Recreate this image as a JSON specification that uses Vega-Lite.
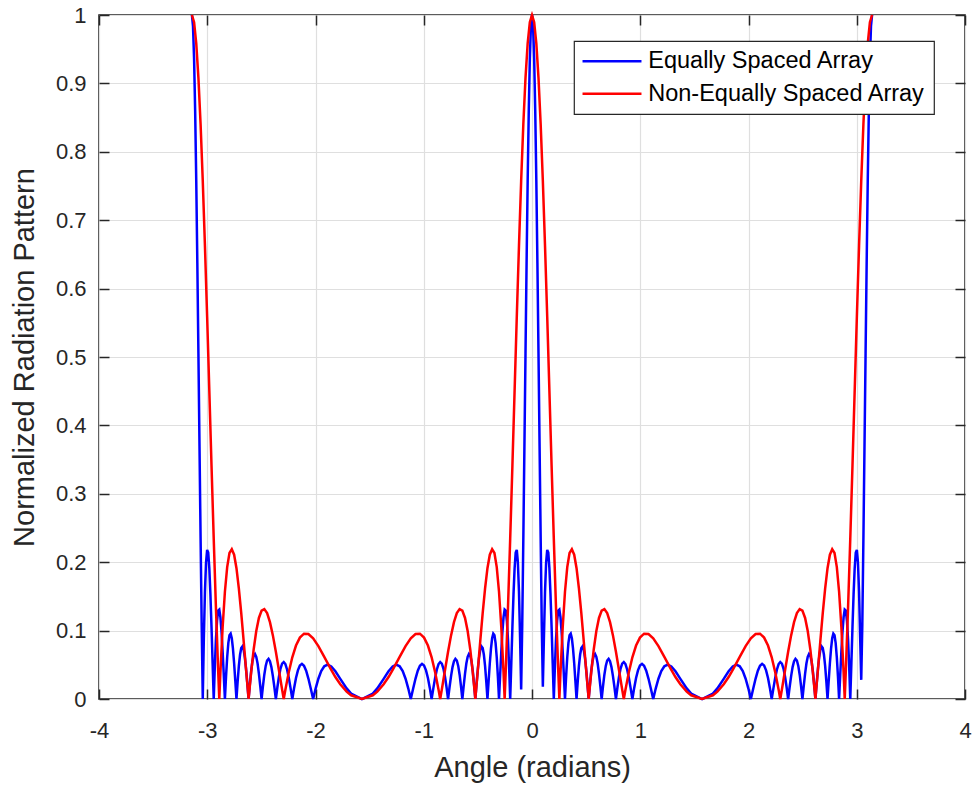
{
  "$schema": "https://vega.github.io/schema/vega-lite/v6.json",
  "width": 866,
  "height": 684,
  "autosize": {"type": "none"},
  "padding": {"left": 99, "top": 15, "right": 8, "bottom": 87},
  "background": "white",
  "config": {
    "view": {"stroke": "#262626", "strokeWidth": 1.6},
    "font": "Liberation Sans",
    "axis": {"labelFont": "Liberation Sans", "titleFont": "Liberation Sans", "labelFlush": false, "labelOverlap": false},
    "legend": {"strokeWidth": 1.2}
  },
  "datasets": {
    "eq": [
      {"x":-3.1416,"y":1},{"x":-3.1316,"y":0.9837},{"x":-3.1216,"y":0.9356},{"x":-3.1116,"y":0.8587},{"x":-3.1016,"y":0.7573},{"x":-3.0916,"y":0.6373},{"x":-3.0816,"y":0.5053},{"x":-3.0715,"y":0.3686},{"x":-3.0615,"y":0.2345},{"x":-3.0515,"y":0.1097},{"x":-3.0414,"y":0},{"x":-3.0314,"y":0.0899},{"x":-3.0213,"y":0.1568},{"x":-3.0112,"y":0.1995},{"x":-3.0011,"y":0.2180},{"x":-2.9910,"y":0.2142},{"x":-2.9809,"y":0.1912},{"x":-2.9708,"y":0.1533},{"x":-2.9606,"y":0.1053},{"x":-2.9504,"y":0.0525},{"x":-2.9402,"y":0},{"x":-2.9300,"y":0.0477},{"x":-2.9198,"y":0.0868},{"x":-2.9095,"y":0.1144},{"x":-2.8992,"y":0.1292},{"x":-2.8889,"y":0.1307},{"x":-2.8786,"y":0.1197},{"x":-2.8682,"y":0.0983},{"x":-2.8578,"y":0.0690},{"x":-2.8474,"y":0.0351},{"x":-2.8369,"y":0},{"x":-2.8264,"y":0.0330},{"x":-2.8159,"y":0.0610},{"x":-2.8053,"y":0.0816},{"x":-2.7947,"y":0.0934},{"x":-2.7840,"y":0.0957},{"x":-2.7733,"y":0.0887},{"x":-2.7626,"y":0.0737},{"x":-2.7518,"y":0.0523},{"x":-2.7410,"y":0.0269},{"x":-2.7301,"y":0},{"x":-2.7191,"y":0.0257},{"x":-2.7082,"y":0.0480},{"x":-2.6971,"y":0.0647},{"x":-2.6860,"y":0.0746},{"x":-2.6748,"y":0.0770},{"x":-2.6636,"y":0.0719},{"x":-2.6523,"y":0.0601},{"x":-2.6409,"y":0.0429},{"x":-2.6295,"y":0.0222},{"x":-2.6180,"y":0},{"x":-2.6064,"y":0.0215},{"x":-2.5947,"y":0.0403},{"x":-2.5830,"y":0.0547},{"x":-2.5712,"y":0.0634},{"x":-2.5592,"y":0.0658},{"x":-2.5472,"y":0.0617},{"x":-2.5351,"y":0.0518},{"x":-2.5229,"y":0.0372},{"x":-2.5105,"y":0.0193},{"x":-2.4981,"y":0},{"x":-2.4855,"y":0.0189},{"x":-2.4729,"y":0.0355},{"x":-2.4600,"y":0.0484},{"x":-2.4471,"y":0.0563},{"x":-2.4340,"y":0.0586},{"x":-2.4208,"y":0.0552},{"x":-2.4074,"y":0.0466},{"x":-2.3938,"y":0.0335},{"x":-2.3801,"y":0.0175},{"x":-2.3662,"y":0},{"x":-2.3521,"y":0.0172},{"x":-2.3378,"y":0.0325},{"x":-2.3233,"y":0.0444},{"x":-2.3085,"y":0.0518},{"x":-2.2935,"y":0.0541},{"x":-2.2783,"y":0.0511},{"x":-2.2627,"y":0.0432},{"x":-2.2469,"y":0.0312},{"x":-2.2308,"y":0.0163},{"x":-2.2143,"y":0},{"x":-2.1974,"y":0.0162},{"x":-2.1802,"y":0.0306},{"x":-2.1625,"y":0.0419},{"x":-2.1443,"y":0.0491},{"x":-2.1256,"y":0.0514},{"x":-2.1063,"y":0.0487},{"x":-2.0864,"y":0.0413},{"x":-2.0657,"y":0.0299},{"x":-2.0443,"y":0.0157},{"x":-2.0218,"y":0},{"x":-1.9983,"y":0.0156},{"x":-1.9735,"y":0.0296},{"x":-1.9472,"y":0.0407},{"x":-1.9190,"y":0.0478},{"x":-1.8884,"y":0.0502},{"x":-1.8546,"y":0.0476},{"x":-1.8164,"y":0.0405},{"x":-1.7711,"y":0.0294},{"x":-1.7123,"y":0.0155},{"x":-1.6709,"y":0.0078},{"x":-1.5708,"y":0},
      {"x":-1.4707,"y":0.0078},{"x":-1.4293,"y":0.0155},{"x":-1.3705,"y":0.0294},{"x":-1.3252,"y":0.0405},{"x":-1.2870,"y":0.0476},{"x":-1.2532,"y":0.0502},{"x":-1.2226,"y":0.0478},{"x":-1.1944,"y":0.0407},{"x":-1.1681,"y":0.0296},{"x":-1.1433,"y":0.0156},{"x":-1.1198,"y":0},{"x":-1.0973,"y":0.0157},{"x":-1.0759,"y":0.0299},{"x":-1.0552,"y":0.0413},{"x":-1.0353,"y":0.0487},{"x":-1.0160,"y":0.0514},{"x":-0.9973,"y":0.0491},{"x":-0.9791,"y":0.0419},{"x":-0.9614,"y":0.0306},{"x":-0.9442,"y":0.0162},{"x":-0.9273,"y":0},{"x":-0.9108,"y":0.0163},{"x":-0.8947,"y":0.0312},{"x":-0.8789,"y":0.0432},{"x":-0.8633,"y":0.0511},{"x":-0.8481,"y":0.0541},{"x":-0.8331,"y":0.0518},{"x":-0.8183,"y":0.0444},{"x":-0.8038,"y":0.0325},{"x":-0.7895,"y":0.0172},{"x":-0.7754,"y":0},{"x":-0.7615,"y":0.0175},{"x":-0.7478,"y":0.0335},{"x":-0.7342,"y":0.0466},{"x":-0.7208,"y":0.0552},{"x":-0.7076,"y":0.0586},{"x":-0.6945,"y":0.0563},{"x":-0.6816,"y":0.0484},{"x":-0.6687,"y":0.0355},{"x":-0.6561,"y":0.0189},{"x":-0.6435,"y":0},{"x":-0.6311,"y":0.0193},{"x":-0.6187,"y":0.0372},{"x":-0.6065,"y":0.0518},{"x":-0.5944,"y":0.0617},{"x":-0.5824,"y":0.0658},{"x":-0.5704,"y":0.0634},{"x":-0.5586,"y":0.0547},{"x":-0.5469,"y":0.0403},{"x":-0.5352,"y":0.0215},{"x":-0.5236,"y":0},{"x":-0.5121,"y":0.0222},{"x":-0.5007,"y":0.0429},{"x":-0.4893,"y":0.0601},{"x":-0.4780,"y":0.0719},{"x":-0.4668,"y":0.0770},{"x":-0.4556,"y":0.0746},{"x":-0.4445,"y":0.0647},{"x":-0.4334,"y":0.0480},{"x":-0.4225,"y":0.0257},{"x":-0.4115,"y":0},{"x":-0.4006,"y":0.0269},{"x":-0.3898,"y":0.0523},{"x":-0.3790,"y":0.0737},{"x":-0.3683,"y":0.0887},{"x":-0.3576,"y":0.0957},{"x":-0.3469,"y":0.0934},{"x":-0.3363,"y":0.0816},{"x":-0.3257,"y":0.0610},{"x":-0.3152,"y":0.0330},{"x":-0.3047,"y":0},{"x":-0.2942,"y":0.0351},{"x":-0.2838,"y":0.0690},{"x":-0.2734,"y":0.0983},{"x":-0.2630,"y":0.1197},{"x":-0.2527,"y":0.1307},{"x":-0.2424,"y":0.1292},{"x":-0.2321,"y":0.1144},{"x":-0.2218,"y":0.0868},{"x":-0.2116,"y":0.0477},{"x":-0.2014,"y":0},{"x":-0.1912,"y":0.0525},{"x":-0.1810,"y":0.1053},{"x":-0.1708,"y":0.1533},{"x":-0.1607,"y":0.1912},{"x":-0.1506,"y":0.2142},{"x":-0.1405,"y":0.2180},{"x":-0.1304,"y":0.1995},{"x":-0.1203,"y":0.1568},{"x":-0.1102,"y":0.0899},{"x":-0.1002,"y":0.014},{"x":-0.0901,"y":0.1097},{"x":-0.0801,"y":0.2345},{"x":-0.0701,"y":0.3686},{"x":-0.0600,"y":0.5053},{"x":-0.0500,"y":0.6373},{"x":-0.0400,"y":0.7573},{"x":-0.0300,"y":0.8587},{"x":-0.0200,"y":0.9356},{"x":-0.0100,"y":0.9837},{"x":0,"y":1},
      {"x":0.0100,"y":0.9837},{"x":0.0200,"y":0.9356},{"x":0.0300,"y":0.8587},{"x":0.0400,"y":0.7573},{"x":0.0500,"y":0.6373},{"x":0.0600,"y":0.5053},{"x":0.0701,"y":0.3686},{"x":0.0801,"y":0.2345},{"x":0.0901,"y":0.1097},{"x":0.1002,"y":0.018},{"x":0.1102,"y":0.0899},{"x":0.1203,"y":0.1568},{"x":0.1304,"y":0.1995},{"x":0.1405,"y":0.2180},{"x":0.1506,"y":0.2142},{"x":0.1607,"y":0.1912},{"x":0.1708,"y":0.1533},{"x":0.1810,"y":0.1053},{"x":0.1912,"y":0.0525},{"x":0.2014,"y":0},{"x":0.2116,"y":0.0477},{"x":0.2218,"y":0.0868},{"x":0.2321,"y":0.1144},{"x":0.2424,"y":0.1292},{"x":0.2527,"y":0.1307},{"x":0.2630,"y":0.1197},{"x":0.2734,"y":0.0983},{"x":0.2838,"y":0.0690},{"x":0.2942,"y":0.0351},{"x":0.3047,"y":0},{"x":0.3152,"y":0.0330},{"x":0.3257,"y":0.0610},{"x":0.3363,"y":0.0816},{"x":0.3469,"y":0.0934},{"x":0.3576,"y":0.0957},{"x":0.3683,"y":0.0887},{"x":0.3790,"y":0.0737},{"x":0.3898,"y":0.0523},{"x":0.4006,"y":0.0269},{"x":0.4115,"y":0},{"x":0.4225,"y":0.0257},{"x":0.4334,"y":0.0480},{"x":0.4445,"y":0.0647},{"x":0.4556,"y":0.0746},{"x":0.4668,"y":0.0770},{"x":0.4780,"y":0.0719},{"x":0.4893,"y":0.0601},{"x":0.5007,"y":0.0429},{"x":0.5121,"y":0.0222},{"x":0.5236,"y":0},{"x":0.5352,"y":0.0215},{"x":0.5469,"y":0.0403},{"x":0.5586,"y":0.0547},{"x":0.5704,"y":0.0634},{"x":0.5824,"y":0.0658},{"x":0.5944,"y":0.0617},{"x":0.6065,"y":0.0518},{"x":0.6187,"y":0.0372},{"x":0.6311,"y":0.0193},{"x":0.6435,"y":0},{"x":0.6561,"y":0.0189},{"x":0.6687,"y":0.0355},{"x":0.6816,"y":0.0484},{"x":0.6945,"y":0.0563},{"x":0.7076,"y":0.0586},{"x":0.7208,"y":0.0552},{"x":0.7342,"y":0.0466},{"x":0.7478,"y":0.0335},{"x":0.7615,"y":0.0175},{"x":0.7754,"y":0},{"x":0.7895,"y":0.0172},{"x":0.8038,"y":0.0325},{"x":0.8183,"y":0.0444},{"x":0.8331,"y":0.0518},{"x":0.8481,"y":0.0541},{"x":0.8633,"y":0.0511},{"x":0.8789,"y":0.0432},{"x":0.8947,"y":0.0312},{"x":0.9108,"y":0.0163},{"x":0.9273,"y":0},{"x":0.9442,"y":0.0162},{"x":0.9614,"y":0.0306},{"x":0.9791,"y":0.0419},{"x":0.9973,"y":0.0491},{"x":1.0160,"y":0.0514},{"x":1.0353,"y":0.0487},{"x":1.0552,"y":0.0413},{"x":1.0759,"y":0.0299},{"x":1.0973,"y":0.0157},{"x":1.1198,"y":0},{"x":1.1433,"y":0.0156},{"x":1.1681,"y":0.0296},{"x":1.1944,"y":0.0407},{"x":1.2226,"y":0.0478},{"x":1.2532,"y":0.0502},{"x":1.2870,"y":0.0476},{"x":1.3252,"y":0.0405},{"x":1.3705,"y":0.0294},{"x":1.4293,"y":0.0155},{"x":1.4707,"y":0.0078},{"x":1.5708,"y":0},
      {"x":1.6709,"y":0.0078},{"x":1.7123,"y":0.0155},{"x":1.7711,"y":0.0294},{"x":1.8164,"y":0.0405},{"x":1.8546,"y":0.0476},{"x":1.8884,"y":0.0502},{"x":1.9190,"y":0.0478},{"x":1.9472,"y":0.0407},{"x":1.9735,"y":0.0296},{"x":1.9983,"y":0.0156},{"x":2.0218,"y":0},{"x":2.0443,"y":0.0157},{"x":2.0657,"y":0.0299},{"x":2.0864,"y":0.0413},{"x":2.1063,"y":0.0487},{"x":2.1256,"y":0.0514},{"x":2.1443,"y":0.0491},{"x":2.1625,"y":0.0419},{"x":2.1802,"y":0.0306},{"x":2.1974,"y":0.0162},{"x":2.2143,"y":0},{"x":2.2308,"y":0.0163},{"x":2.2469,"y":0.0312},{"x":2.2627,"y":0.0432},{"x":2.2783,"y":0.0511},{"x":2.2935,"y":0.0541},{"x":2.3085,"y":0.0518},{"x":2.3233,"y":0.0444},{"x":2.3378,"y":0.0325},{"x":2.3521,"y":0.0172},{"x":2.3662,"y":0},{"x":2.3801,"y":0.0175},{"x":2.3938,"y":0.0335},{"x":2.4074,"y":0.0466},{"x":2.4208,"y":0.0552},{"x":2.4340,"y":0.0586},{"x":2.4471,"y":0.0563},{"x":2.4600,"y":0.0484},{"x":2.4729,"y":0.0355},{"x":2.4855,"y":0.0189},{"x":2.4981,"y":0},{"x":2.5105,"y":0.0193},{"x":2.5229,"y":0.0372},{"x":2.5351,"y":0.0518},{"x":2.5472,"y":0.0617},{"x":2.5592,"y":0.0658},{"x":2.5712,"y":0.0634},{"x":2.5830,"y":0.0547},{"x":2.5947,"y":0.0403},{"x":2.6064,"y":0.0215},{"x":2.6180,"y":0},{"x":2.6295,"y":0.0222},{"x":2.6409,"y":0.0429},{"x":2.6523,"y":0.0601},{"x":2.6636,"y":0.0719},{"x":2.6748,"y":0.0770},{"x":2.6860,"y":0.0746},{"x":2.6971,"y":0.0647},{"x":2.7082,"y":0.0480},{"x":2.7191,"y":0.0257},{"x":2.7301,"y":0},{"x":2.7410,"y":0.0269},{"x":2.7518,"y":0.0523},{"x":2.7626,"y":0.0737},{"x":2.7733,"y":0.0887},{"x":2.7840,"y":0.0957},{"x":2.7947,"y":0.0934},{"x":2.8053,"y":0.0816},{"x":2.8159,"y":0.0610},{"x":2.8264,"y":0.0330},{"x":2.8369,"y":0},{"x":2.8474,"y":0.0351},{"x":2.8578,"y":0.0690},{"x":2.8682,"y":0.0983},{"x":2.8786,"y":0.1197},{"x":2.8889,"y":0.1307},{"x":2.8992,"y":0.1292},{"x":2.9095,"y":0.1144},{"x":2.9198,"y":0.0868},{"x":2.9300,"y":0.0477},{"x":2.9402,"y":0},{"x":2.9504,"y":0.0525},{"x":2.9606,"y":0.1053},{"x":2.9708,"y":0.1533},{"x":2.9809,"y":0.1912},{"x":2.9910,"y":0.2142},{"x":3.0011,"y":0.2180},{"x":3.0112,"y":0.1995},{"x":3.0213,"y":0.1568},{"x":3.0314,"y":0.0899},{"x":3.0414,"y":0.028},{"x":3.0515,"y":0.1097},{"x":3.0615,"y":0.2345},{"x":3.0715,"y":0.3686},{"x":3.0816,"y":0.5053},{"x":3.0916,"y":0.6373},{"x":3.1016,"y":0.7573},{"x":3.1116,"y":0.8587},{"x":3.1216,"y":0.9356},{"x":3.1316,"y":0.9837},{"x":3.1416,"y":1}
    ],
    "neq": [
      {"x":-3.1416,"y":1},{"x":-3.1216,"y":0.9895},{"x":-3.1016,"y":0.9585},{"x":-3.0816,"y":0.9081},{"x":-3.0615,"y":0.8402},{"x":-3.0414,"y":0.7573},{"x":-3.0213,"y":0.6625},{"x":-3.0011,"y":0.5591},{"x":-2.9809,"y":0.4508},{"x":-2.9606,"y":0.3414},{"x":-2.9402,"y":0.2345},{"x":-2.9198,"y":0.1336},{"x":-2.8992,"y":0.0417},{"x":-2.8889,"y":0},{"x":-2.8786,"y":0.0385},{"x":-2.8578,"y":0.1052},{"x":-2.8369,"y":0.1568},{"x":-2.8159,"y":0.1929},{"x":-2.7947,"y":0.2134},{"x":-2.7733,"y":0.2190},{"x":-2.7518,"y":0.2110},{"x":-2.7301,"y":0.1912},{"x":-2.7082,"y":0.1618},{"x":-2.6860,"y":0.1254},{"x":-2.6636,"y":0.0845},{"x":-2.6409,"y":0.0419},{"x":-2.6180,"y":0},{"x":-2.5947,"y":0.0387},{"x":-2.5712,"y":0.0724},{"x":-2.5472,"y":0.0993},{"x":-2.5229,"y":0.1185},{"x":-2.4981,"y":0.1292},{"x":-2.4729,"y":0.1314},{"x":-2.4471,"y":0.1255},{"x":-2.4208,"y":0.1123},{"x":-2.3938,"y":0.0930},{"x":-2.3662,"y":0.0690},{"x":-2.3378,"y":0.0421},{"x":-2.3085,"y":0.0140},{"x":-2.2935,"y":0},{"x":-2.2783,"y":0.0136},{"x":-2.2469,"y":0.0391},{"x":-2.2143,"y":0.0610},{"x":-2.1802,"y":0.0782},{"x":-2.1443,"y":0.0898},{"x":-2.1063,"y":0.0955},{"x":-2.0657,"y":0.0950},{"x":-2.0218,"y":0.0887},{"x":-1.9735,"y":0.0773},{"x":-1.9190,"y":0.0615},{"x":-1.8546,"y":0.0425},{"x":-1.8164,"y":0.0321},{"x":-1.7711,"y":0.0215},{"x":-1.7123,"y":0.0108},{"x":-1.6709,"y":0.0054},{"x":-1.5708,"y":0},
      {"x":-1.4707,"y":0.0054},{"x":-1.4293,"y":0.0108},{"x":-1.3705,"y":0.0215},{"x":-1.3252,"y":0.0321},{"x":-1.2870,"y":0.0425},{"x":-1.2226,"y":0.0615},{"x":-1.1681,"y":0.0773},{"x":-1.1198,"y":0.0887},{"x":-1.0759,"y":0.0950},{"x":-1.0353,"y":0.0955},{"x":-0.9973,"y":0.0898},{"x":-0.9614,"y":0.0782},{"x":-0.9273,"y":0.0610},{"x":-0.8947,"y":0.0391},{"x":-0.8633,"y":0.0136},{"x":-0.8481,"y":0},{"x":-0.8331,"y":0.0140},{"x":-0.8038,"y":0.0421},{"x":-0.7754,"y":0.0690},{"x":-0.7478,"y":0.0930},{"x":-0.7208,"y":0.1123},{"x":-0.6945,"y":0.1255},{"x":-0.6687,"y":0.1314},{"x":-0.6435,"y":0.1292},{"x":-0.6187,"y":0.1185},{"x":-0.5944,"y":0.0993},{"x":-0.5704,"y":0.0724},{"x":-0.5469,"y":0.0387},{"x":-0.5236,"y":0},{"x":-0.5007,"y":0.0419},{"x":-0.4780,"y":0.0845},{"x":-0.4556,"y":0.1254},{"x":-0.4334,"y":0.1618},{"x":-0.4115,"y":0.1912},{"x":-0.3898,"y":0.2110},{"x":-0.3683,"y":0.2190},{"x":-0.3469,"y":0.2134},{"x":-0.3257,"y":0.1929},{"x":-0.3047,"y":0.1568},{"x":-0.2838,"y":0.1052},{"x":-0.2630,"y":0.0385},{"x":-0.2527,"y":0},{"x":-0.2424,"y":0.0417},{"x":-0.2218,"y":0.1336},{"x":-0.2014,"y":0.2345},{"x":-0.1810,"y":0.3414},{"x":-0.1607,"y":0.4508},{"x":-0.1405,"y":0.5591},{"x":-0.1203,"y":0.6625},{"x":-0.1002,"y":0.7573},{"x":-0.0801,"y":0.8402},{"x":-0.0600,"y":0.9081},{"x":-0.0400,"y":0.9585},{"x":-0.0200,"y":0.9895},{"x":0,"y":1},
      {"x":0.0200,"y":0.9895},{"x":0.0400,"y":0.9585},{"x":0.0600,"y":0.9081},{"x":0.0801,"y":0.8402},{"x":0.1002,"y":0.7573},{"x":0.1203,"y":0.6625},{"x":0.1405,"y":0.5591},{"x":0.1607,"y":0.4508},{"x":0.1810,"y":0.3414},{"x":0.2014,"y":0.2345},{"x":0.2218,"y":0.1336},{"x":0.2424,"y":0.0417},{"x":0.2527,"y":0},{"x":0.2630,"y":0.0385},{"x":0.2838,"y":0.1052},{"x":0.3047,"y":0.1568},{"x":0.3257,"y":0.1929},{"x":0.3469,"y":0.2134},{"x":0.3683,"y":0.2190},{"x":0.3898,"y":0.2110},{"x":0.4115,"y":0.1912},{"x":0.4334,"y":0.1618},{"x":0.4556,"y":0.1254},{"x":0.4780,"y":0.0845},{"x":0.5007,"y":0.0419},{"x":0.5236,"y":0},{"x":0.5469,"y":0.0387},{"x":0.5704,"y":0.0724},{"x":0.5944,"y":0.0993},{"x":0.6187,"y":0.1185},{"x":0.6435,"y":0.1292},{"x":0.6687,"y":0.1314},{"x":0.6945,"y":0.1255},{"x":0.7208,"y":0.1123},{"x":0.7478,"y":0.0930},{"x":0.7754,"y":0.0690},{"x":0.8038,"y":0.0421},{"x":0.8331,"y":0.0140},{"x":0.8481,"y":0},{"x":0.8633,"y":0.0136},{"x":0.8947,"y":0.0391},{"x":0.9273,"y":0.0610},{"x":0.9614,"y":0.0782},{"x":0.9973,"y":0.0898},{"x":1.0353,"y":0.0955},{"x":1.0759,"y":0.0950},{"x":1.1198,"y":0.0887},{"x":1.1681,"y":0.0773},{"x":1.2226,"y":0.0615},{"x":1.2870,"y":0.0425},{"x":1.3252,"y":0.0321},{"x":1.3705,"y":0.0215},{"x":1.4293,"y":0.0108},{"x":1.4707,"y":0.0054},{"x":1.5708,"y":0},
      {"x":1.6709,"y":0.0054},{"x":1.7123,"y":0.0108},{"x":1.7711,"y":0.0215},{"x":1.8164,"y":0.0321},{"x":1.8546,"y":0.0425},{"x":1.9190,"y":0.0615},{"x":1.9735,"y":0.0773},{"x":2.0218,"y":0.0887},{"x":2.0657,"y":0.0950},{"x":2.1063,"y":0.0955},{"x":2.1443,"y":0.0898},{"x":2.1802,"y":0.0782},{"x":2.2143,"y":0.0610},{"x":2.2469,"y":0.0391},{"x":2.2783,"y":0.0136},{"x":2.2935,"y":0},{"x":2.3085,"y":0.0140},{"x":2.3378,"y":0.0421},{"x":2.3662,"y":0.0690},{"x":2.3938,"y":0.0930},{"x":2.4208,"y":0.1123},{"x":2.4471,"y":0.1255},{"x":2.4729,"y":0.1314},{"x":2.4981,"y":0.1292},{"x":2.5229,"y":0.1185},{"x":2.5472,"y":0.0993},{"x":2.5712,"y":0.0724},{"x":2.5947,"y":0.0387},{"x":2.6180,"y":0},{"x":2.6409,"y":0.0419},{"x":2.6636,"y":0.0845},{"x":2.6860,"y":0.1254},{"x":2.7082,"y":0.1618},{"x":2.7301,"y":0.1912},{"x":2.7518,"y":0.2110},{"x":2.7733,"y":0.2190},{"x":2.7947,"y":0.2134},{"x":2.8159,"y":0.1929},{"x":2.8369,"y":0.1568},{"x":2.8578,"y":0.1052},{"x":2.8786,"y":0.0385},{"x":2.8889,"y":0},{"x":2.8992,"y":0.0417},{"x":2.9198,"y":0.1336},{"x":2.9402,"y":0.2345},{"x":2.9606,"y":0.3414},{"x":2.9809,"y":0.4508},{"x":3.0011,"y":0.5591},{"x":3.0213,"y":0.6625},{"x":3.0414,"y":0.7573},{"x":3.0615,"y":0.8402},{"x":3.0816,"y":0.9081},{"x":3.1016,"y":0.9585},{"x":3.1216,"y":0.9895},{"x":3.1416,"y":1}
    ]
  },
  "layer": [
    {
      "data": {"name": "eq"},
      "mark": {"type": "line", "strokeWidth": 2.5},
      "encoding": {
        "x": {
          "field": "x", "type": "quantitative",
          "scale": {"domain": [-4, 4], "nice": false, "zero": false},
          "axis": {
            "orient": "bottom", "values": [-4, -3, -2, -1, 0, 1, 2, 3, 4], "labelExpr": "toString(datum.value)",
            "title": "Angle (radians)", "grid": true, "gridColor": "#dfdfdf", "gridWidth": 1.2,
            "domain": false, "ticks": true, "tickSize": -10, "tickColor": "#262626", "tickWidth": 1.5,
            "labelFontSize": 22, "labelColor": "#262626", "labelPadding": 48, "labelBaseline": "alphabetic",
            "titleFontSize": 29, "titleFontWeight": "normal", "titleColor": "#262626",
            "titleX": 433, "titleY": 77, "titleBaseline": "alphabetic", "titleAlign": "center"
          }
        },
        "y": {
          "field": "y", "type": "quantitative",
          "scale": {"domain": [0, 1], "nice": false, "zero": false},
          "axis": {
            "orient": "left", "values": [0, 0.1, 0.2, 0.3, 0.4, 0.5, 0.6, 0.7, 0.8, 0.9, 1], "labelExpr": "toString(datum.value)",
            "title": "Normalized Radiation Pattern", "grid": true, "gridColor": "#dfdfdf", "gridWidth": 1.2,
            "domain": false, "ticks": true, "tickSize": -10, "tickColor": "#262626", "tickWidth": 1.5,
            "labelFontSize": 22, "labelColor": "#262626", "labelPadding": 23, "labelBaseline": "middle",
            "titleFontSize": 29, "titleFontWeight": "normal", "titleColor": "#262626",
            "titleX": -66, "titleY": 342, "titleAngle": -90, "titleBaseline": "alphabetic", "titleAlign": "center"
          }
        },
        "color": {
          "datum": "Equally Spaced Array", "type": "nominal",
          "scale": {"domain": ["Equally Spaced Array", "Non-Equally Spaced Array"], "range": ["#0000ff", "#ff0000"]},
          "legend": {
            "orient": "none", "legendX": 475, "legendY": 26, "title": null,
            "symbolType": "M-5,0H5", "symbolSize": 139, "symbolStrokeWidth": 2.5,
            "symbolOffset": 17.75, "labelOffset": 24.5, "labelFontSize": 23.5, "labelColor": "#000000",
            "labelFont": "Liberation Sans", "labelLimit": 400,
            "padding": 8.5, "rowPadding": 7.5, "strokeColor": "#262626", "fillColor": "#ffffff"
          }
        }
      }
    },
    {
      "data": {"name": "neq"},
      "mark": {"type": "line", "strokeWidth": 2.5},
      "encoding": {
        "x": {
          "field": "x", "type": "quantitative",
          "axis": {"orient": "top", "values": [-4, -3, -2, -1, 0, 1, 2, 3, 4], "labels": false, "title": null, "grid": false, "domain": false, "tickSize": -10, "tickColor": "#262626", "tickWidth": 1.5}
        },
        "y": {
          "field": "y", "type": "quantitative",
          "axis": {"orient": "right", "values": [0, 0.1, 0.2, 0.3, 0.4, 0.5, 0.6, 0.7, 0.8, 0.9, 1], "labels": false, "title": null, "grid": false, "domain": false, "tickSize": -10, "tickColor": "#262626", "tickWidth": 1.5}
        },
        "color": {"datum": "Non-Equally Spaced Array", "type": "nominal"}
      }
    }
  ],
  "resolve": {"axis": {"x": "independent", "y": "independent"}}
}
